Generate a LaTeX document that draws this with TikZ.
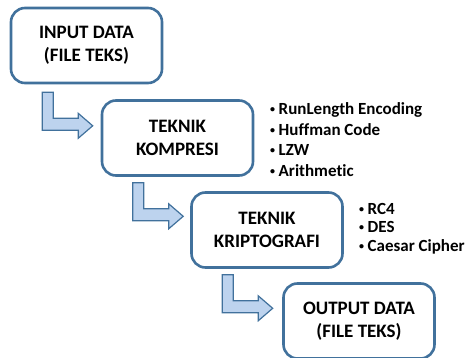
\documentclass[tikz,border=0pt]{standalone}
\usepackage{fontspec}
\setmainfont{Carlito}[BoldFont={Carlito Bold}, Ligatures=NoCommon]
\usetikzlibrary{calc}
\definecolor{boxline}{HTML}{41719C}
\definecolor{arrowfill}{HTML}{BDD3EE}
\tikzset{
  stage/.style={draw=boxline, line width=2.6pt, rounded corners=14pt, fill=white,
    minimum width=151pt, minimum height=75pt, align=center, inner sep=0pt,
    font=\fontsize{19}{23}\selectfont\bfseries},
  itemlist/.style={align=left, anchor=west, inner sep=0pt,
    font=\fontsize{17}{20.5}\selectfont\bfseries},
  arrowbody/.style={draw=boxline, line width=1.2pt, fill=arrowfill, line join=miter},
  bentarrow/.pic={
    \path[arrowbody] (0,0) -- (11,0) -- (11,26) -- (36,26) -- (36,21) -- (50.5,33.5)
      -- (36,46) -- (36,38) -- (0,38) -- cycle;
  }
}
\newcommand{\bul}{{\fontsize{10}{10}\selectfont\raisebox{2pt}{\textbullet}}\hspace{3.5pt}}
\begin{document}
\begin{tikzpicture}[x=1pt,y=-1pt]
  \useasboundingbox (0,0) rectangle (473,358);

  % process stages
  \node[stage] (input)  at (86.5,45.5) {INPUT DATA\\(FILE TEKS)};
  \node[stage] (kompr)  at (177.5,138) {TEKNIK\\KOMPRESI};
  \node[stage] (kripto) at (267,230)   {TEKNIK\\KRIPTOGRAFI};
  \node[stage] (output) at (359,321)   {OUTPUT DATA\\(FILE TEKS)};

  % bent block arrows between the stages
  \pic at ($(input.south west)+(32.5,8)$)  {bentarrow};
  \pic at ($(kompr.south west)+(32,6)$)    {bentarrow};
  \pic at ($(kripto.south west)+(32,6)$)   {bentarrow};

  % compression methods
  \node[itemlist] (klist) at (270,139.5)
    {\bul RunLength Encoding\\ \bul Huffman Code\\ \bul LZW\\ \bul Arithmetic};

  % cryptography methods
  \node[itemlist, font=\fontsize{17}{18.5}\selectfont\bfseries] (clist) at (359,228.5)
    {\bul RC4\\ \bul DES\\ \bul Caesar Cipher};
\end{tikzpicture}
\end{document}
